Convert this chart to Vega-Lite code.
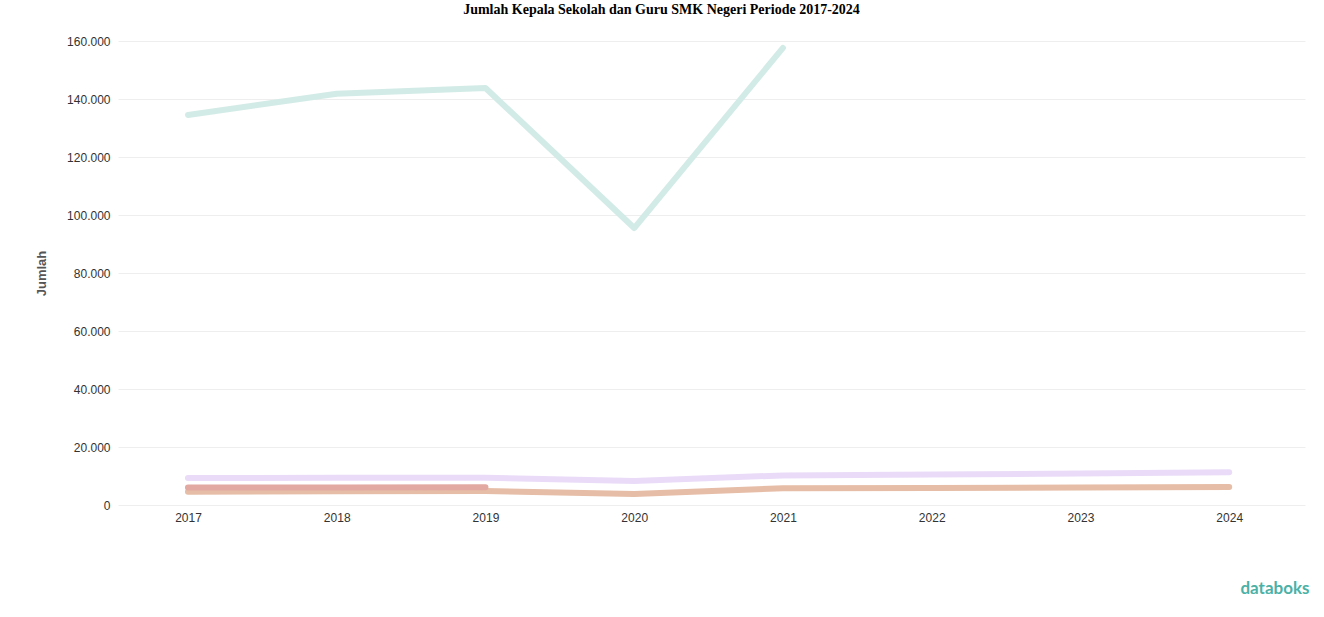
{
  "$schema": "https://vega.github.io/schema/vega-lite/v6.json",
  "autosize": {"type": "none"},
  "padding": {"left": 118, "top": 41, "right": 19, "bottom": 112},
  "width": 1187,
  "height": 464,
  "background": "white",
  "title": {
    "text": "Jumlah Kepala Sekolah dan Guru SMK Negeri Periode 2017-2024",
    "font": "Liberation Serif",
    "fontSize": 14,
    "fontWeight": "bold",
    "color": "#000000",
    "anchor": "middle",
    "dx": -50,
    "offset": 18
  },
  "data": {
    "values": [
      {"tahun": "2017", "seri": "Guru", "jumlah": 134500},
      {"tahun": "2018", "seri": "Guru", "jumlah": 141800},
      {"tahun": "2019", "seri": "Guru", "jumlah": 143800},
      {"tahun": "2020", "seri": "Guru", "jumlah": 95500},
      {"tahun": "2021", "seri": "Guru", "jumlah": 157600},
      {"tahun": "2017", "seri": "Guru Lainnya", "jumlah": 9300},
      {"tahun": "2018", "seri": "Guru Lainnya", "jumlah": 9400},
      {"tahun": "2019", "seri": "Guru Lainnya", "jumlah": 9400},
      {"tahun": "2020", "seri": "Guru Lainnya", "jumlah": 8300},
      {"tahun": "2021", "seri": "Guru Lainnya", "jumlah": 10200},
      {"tahun": "2022", "seri": "Guru Lainnya", "jumlah": 10500},
      {"tahun": "2023", "seri": "Guru Lainnya", "jumlah": 10900},
      {"tahun": "2024", "seri": "Guru Lainnya", "jumlah": 11300},
      {"tahun": "2017", "seri": "Kepala Sekolah", "jumlah": 4600},
      {"tahun": "2018", "seri": "Kepala Sekolah", "jumlah": 4700},
      {"tahun": "2019", "seri": "Kepala Sekolah", "jumlah": 4800},
      {"tahun": "2020", "seri": "Kepala Sekolah", "jumlah": 3800},
      {"tahun": "2021", "seri": "Kepala Sekolah", "jumlah": 5800},
      {"tahun": "2022", "seri": "Kepala Sekolah", "jumlah": 5900},
      {"tahun": "2023", "seri": "Kepala Sekolah", "jumlah": 6000},
      {"tahun": "2024", "seri": "Kepala Sekolah", "jumlah": 6200},
      {"tahun": "2017", "seri": "Kepala Sekolah PNS", "jumlah": 6000},
      {"tahun": "2018", "seri": "Kepala Sekolah PNS", "jumlah": 6000},
      {"tahun": "2019", "seri": "Kepala Sekolah PNS", "jumlah": 6100}
    ]
  },
  "mark": {"type": "line", "strokeWidth": 6, "strokeCap": "round", "strokeJoin": "round"},
  "encoding": {
    "x": {
      "field": "tahun",
      "type": "ordinal",
      "sort": null,
      "scale": {"type": "point", "padding": 0.49, "align": 0.48},
      "axis": {
        "title": "databoks",
        "titleFont": "Lato",
        "titleFontSize": 17,
        "titleFontWeight": "bold",
        "titleColor": "#4bb1a6",
        "titleAlign": "right",
        "titleBaseline": "middle",
        "titleX": 1191,
        "titleY": 83,
        "labelAngle": 0,
        "labelFont": "Liberation Sans",
        "labelFontSize": 12,
        "labelColor": "#333333",
        "labelPadding": 7,
        "ticks": false,
        "domain": false,
        "grid": false
      }
    },
    "y": {
      "field": "jumlah",
      "type": "quantitative",
      "scale": {"domain": [0, 160000], "nice": false},
      "axis": {
        "title": "Jumlah",
        "titleFont": "Liberation Sans",
        "titleFontSize": 13,
        "titleFontWeight": "bold",
        "titleColor": "#555555",
        "titlePadding": 18,
        "values": [0, 20000, 40000, 60000, 80000, 100000, 120000, 140000, 160000],
        "labelExpr": "replace(format(datum.value, ','), regexp(',', 'g'), '.')",
        "labelFont": "Liberation Sans",
        "labelFontSize": 12,
        "labelColor": "#333333",
        "labelPadding": 8,
        "ticks": false,
        "domain": false,
        "grid": true,
        "gridColor": "#eeeeee",
        "gridWidth": 1
      }
    },
    "color": {
      "field": "seri",
      "type": "nominal",
      "scale": {
        "domain": ["Guru", "Guru Lainnya", "Kepala Sekolah", "Kepala Sekolah PNS"],
        "range": ["#d3ebe6", "#eadcf8", "#e6bda6", "#e2a9a2"]
      },
      "legend": null
    }
  },
  "config": {"view": {"stroke": null}}
}
